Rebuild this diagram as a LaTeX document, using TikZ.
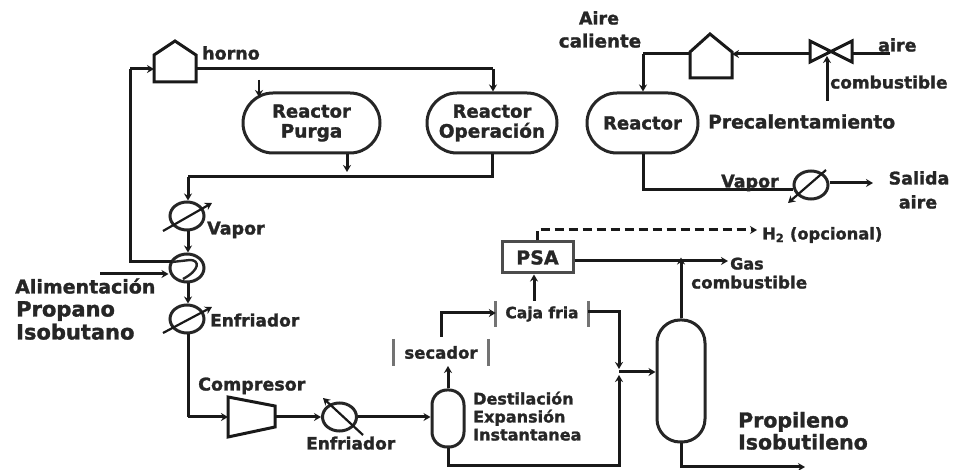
\documentclass[tikz,border=0pt]{standalone}
\usepackage{fontspec}
\setmainfont{DejaVu Sans}[BoldFont={DejaVu Sans Bold},BoldFeatures={FakeBold=1.5}]
\usetikzlibrary{arrows.meta,shapes.geometric}
\newcommand{\fsz}[1]{\fontsize{#1}{#1}\selectfont\bfseries}
\tikzset{
  x=1pt,y=-1pt,
  pipe/.style={draw=black!90,line width=3pt,line join=miter},
  flow/.style={pipe,-{Stealth[length=7pt,width=8pt]}},
  thinflow/.style={flow,line width=2.2pt},
  lbl/.style={inner sep=0pt,anchor=west,text height=13pt,text depth=0pt,font=\fsz{17.5},text=black!85},
  lblc/.style={lbl,anchor=center},
  vessel/.style={draw=black!85,line width=3pt,rectangle,inner sep=0pt,align=center,
    font=\fsz{18},text=black!85},
  exch/.style={ellipse,draw=black!85,line width=3pt,inner sep=0pt,minimum width=34pt,minimum height=28pt},
  barbox/.style={inner sep=0pt,text=black!85},
  bar/.style={draw=black!55,line width=3pt},
  equip/.style={draw=black!90,line width=3pt,line join=miter},
}
\begin{document}
\begin{tikzpicture}
\useasboundingbox (0,0) rectangle (954,470);

% ---- equipment: left train
\draw[equip] (154,82) -- (154,55) -- (175,41) -- (196,55) -- (196,82) -- cycle;
\coordinate (hornoL) at (154,69);
\coordinate (hornoR) at (196,69);
\coordinate (feedA) at (130,69);
\node[vessel,rounded corners=30pt,minimum width=137pt,minimum height=60pt] (purga) at (311.5,123) {Reactor\\[2pt]{\fsz{18.5}Purga}};
\node[vessel,rounded corners=30pt,minimum width=130pt,minimum height=60pt] (oper) at (492,123) {Reactor\\[2pt]{\fsz{18.5}Operación}};
\node[exch] (ex1) at (187,216) {};
\node[exch] (ex2) at (187,268) {};
\node[exch] (ex3) at (187,319) {};
\node[exch] (ex4) at (339.5,417) {};
\draw[equip] (228,397) -- (275,406) -- (275,427) -- (228,437) -- cycle;
\coordinate (compL) at (228,417);
\coordinate (compR) at (275,417);
\node[vessel,rounded corners=15pt,minimum width=32pt,minimum height=57pt] (flash) at (448,418.5) {};
\node[vessel,rounded corners=23pt,minimum width=48pt,minimum height=122pt] (col) at (681,381) {};
\node[vessel,minimum width=71pt,minimum height=31pt,font=\fsz{19},draw=black!70] (psa) at (537.5,257.5) {PSA};
\node[barbox,minimum width=94pt,minimum height=27pt,font=\fsz{16.5}] (sec) at (441,352.5) {secador};
\node[barbox,minimum width=92pt,minimum height=26pt,font=\fsz{15.5}] (caja) at (542,314) {Caja fria};
\draw[bar] (sec.north west) -- (sec.south west);
\draw[bar] (sec.north east) -- (sec.south east);
\draw[bar] (caja.north west) -- (caja.south west);
\draw[bar] (caja.north east) -- (caja.south east);

% ---- equipment: upper right
\draw[equip] (690,78) -- (690,52) -- (710,34) -- (732,52) -- (732,78) -- cycle;
\coordinate (h2L) at (690,54);
\coordinate (h2R) at (732,54);
\draw[equip] (810,41) -- (852,62) -- (852,41) -- (810,62) -- cycle;
\coordinate (vL) at (810,54);
\coordinate (vR) at (852,54);
\coordinate (vC) at (827,56);
\node[vessel,rounded corners=30pt,minimum width=111pt,minimum height=60pt] (reac) at (642.5,123) {Reactor};
\node[exch] (ex5) at (811,185) {};

% ---- connectors
\draw[flow] (feedA) -- (hornoL);
\draw[pipe] (hornoR) -- (493,69) coordinate (c1);
\draw[flow] (c1) -- (oper.north -| c1);
\coordinate (purgaIn) at (259,80);
\draw[thinflow] (purgaIn) -- (259,97);
\coordinate (col1) at (188,177);
\draw[pipe] (oper.south) -- (oper.south |- col1) -- (col1);
\draw[flow] (col1) -- (ex1.north -| col1);
\draw[flow] (purga.south -| 347,0) -- (347,172);
\draw[flow] (ex1.south -| col1) -- (ex2.north -| col1);
\draw[flow] (ex2.south -| col1) -- (ex3.north -| col1);
\draw[pipe] (ex3.south -| col1) -- (188,417) coordinate (c2);
\draw[flow] (c2) -- (compL);
\draw[flow] (compR) -- (ex4.west);
\draw[flow] (ex4.east) -- (ex4.east -| flash.west);
\draw[flow] (flash.north) -- (448,366);
\coordinate (secOut) at (441,337);
\draw[flow] (secOut) -- (441,313) -- (caja.west |- 0,313);
\draw[flow] (caja.north -| 534,0) -- (psa.south -| 534,0);
\coordinate (mix) at (619,372);
\draw[flow] (caja.east |- 0,312) -- (619,312) -- (619,369);
\draw[flow] (flash.south) -- (448,466) -- (619,466) -- (619,375);
\draw[flow] (mix) -- (mix -| col.west);
\draw[flow] (col.north) -- (col.north |- psa.east);
\coordinate (gasEnd) at (728,261);
\draw[flow] (psa.east |- gasEnd) -- (gasEnd);
\coordinate (h2End) at (757,230);
\draw[flow,dash pattern=on 9pt off 5pt] (psa.north -| 537,0) -- (537,230) -- (h2End);
\coordinate (prodEnd) at (805,467);
\draw[flow] (col.south) -- (col.south |- prodEnd) -- (prodEnd);
\coordinate (feedB) at (100,274);
\draw[flow] (feedB) -- (ex2.west |- feedB);
\draw[pipe] (feedA) -- (130,262) -- (172,262);
% exchanger internals
\draw[line width=2.4pt,black!85] (172,262) -- (190,260) .. controls (200,260) and (200,270) .. (183,279);
\draw[thinflow] (163,231) -- (212,203);
\draw[thinflow] (163,333) -- (212,307);
\draw[thinflow] (363,435) -- (323,398);
\draw[thinflow] (826,170) -- (788,203);
% upper right connectors
\draw[pipe] (h2L) -- (643,54) coordinate (c3);
\draw[flow] (c3) -- (reac.north -| c3);
\draw[flow] (vL) -- (h2R);
\coordinate (aireIn) at (890,54);
\draw[pipe] (aireIn) -- (vR);
\coordinate (fuelIn) at (827,101);
\draw[flow] (fuelIn) -- (vC);
\draw[pipe] (reac.south -| c3) -- (643,190) -- (ex5.west |- 0,190);
\coordinate (aireOut) at (873,183);
\draw[flow] (ex5.east |- aireOut) -- (aireOut);

% ---- labels
\node[lbl] (t1) at (202,53) {horno};
\node[lbl] (t2) at (207,228) {Vapor};
\node[lbl,font=\fsz{19}] (t3) at (15,287) {Alimentación};
\node[lbl,font=\fsz{21}] (t4) at (16,310) {Propano};
\node[lbl,font=\fsz{21}] (t5) at (16,333) {Isobutano};
\node[lbl,font=\fsz{17}] (t6) at (210,320) {Enfriador};
\node[lbl,font=\fsz{17.5}] (t7) at (198,384) {Compresor};
\node[lbl,font=\fsz{17}] (t8) at (306,443) {Enfriador};
\node[lbl,font=\fsz{16}] (t9) at (473,398) {Destilación};
\node[lbl,font=\fsz{16}] (t10) at (473,416) {Expansión};
\node[lbl,font=\fsz{16}] (t11) at (473,434) {Instantanea};
\node[lbl,font=\fsz{20.5}] (t12) at (738,421) {Propileno};
\node[lbl,font=\fsz{20.5}] (t13) at (738,443) {Isobutileno};
\node[lbl,font=\fsz{16}] (t14) at (730,263) {Gas};
\node[lbl,font=\fsz{16.8}] (t15) at (691,282) {combustible};
\node[lbl,font=\fsz{16.3}] (t16) at (762,233) {H\textsubscript{2} (opcional)};
\node[lblc] (t17) at (599,18) {Aire};
\node[lblc,font=\fsz{18.3}] (t18) at (600,41) {caliente};
\node[lbl] (t19) at (878,45) {aire};
\node[lbl,font=\fsz{17}] (t20) at (830,82) {combustible};
\node[lbl,font=\fsz{18.7}] (t21) at (708,122) {Precalentamiento};
\node[lbl] (t22) at (721,181) {Vapor};
\node[lblc] (t23) at (919,178) {Salida};
\node[lblc] (t24) at (918,202) {aire};
\end{tikzpicture}
\end{document}
